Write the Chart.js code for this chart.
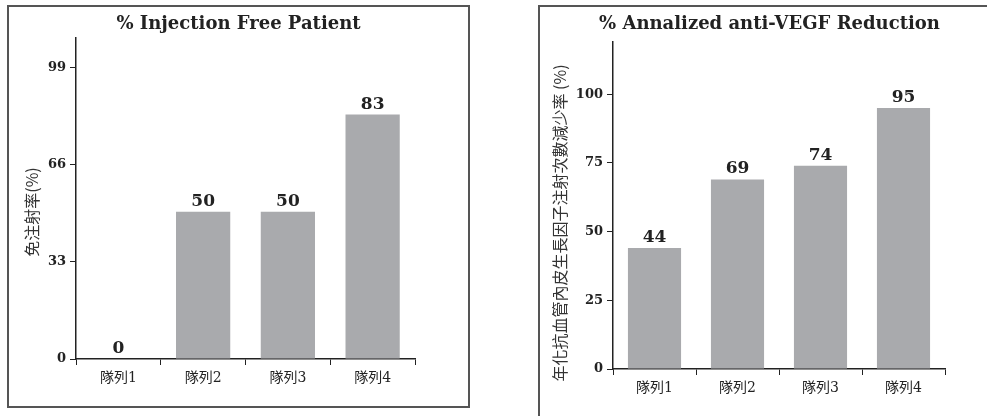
<!DOCTYPE html>
<html>
<head>
<meta charset="utf-8">
<script src="https://cdn.jsdelivr.net/npm/chart.js@4.4.0/dist/chart.umd.min.js"></script>
<style>
  body { margin: 0; background: #fff; overflow: hidden; width: 987px; height: 416px; position: relative; }
  .panel { position: absolute; border: 2px solid #555; box-sizing: border-box; background: #fff; }
  #panel1 { left: 7px; top: 5px; width: 463px; height: 403px; }
  #panel2 { left: 538px; top: 5px; width: 463px; height: 430px; }
  canvas { position: absolute; left: 0; top: 0; }
</style>
</head>
<body>
<div class="panel" id="panel1"><canvas id="chart1" width="459" height="399"></canvas></div>
<div class="panel" id="panel2"><canvas id="chart2" width="459" height="426"></canvas></div>
<script>
const categories = ["隊列1", "隊列2", "隊列3", "隊列4"];
const freeValues = [0, 50, 50, 83];
const freeTicks = [0, 33, 66, 99];
const reductionValues = [44, 69, 74, 95];
const reductionTicks = [0, 25, 50, 75, 100];

const serif = '"DejaVu Serif", "Noto Sans CJK TC", serif';
const cjk = '"Noto Sans CJK TC", sans-serif';
const barColor = "#a9aaad";
const ink = "#222";

// value labels above each bar
const barLabels = {
  id: "barLabels",
  afterDatasetsDraw(chart) {
    const ctx = chart.ctx;
    const meta = chart.getDatasetMeta(0);
    ctx.save();
    ctx.font = "bold 17px " + serif;
    ctx.fillStyle = ink;
    ctx.textAlign = "center";
    ctx.textBaseline = "alphabetic";
    meta.data.forEach((bar, i) => {
      ctx.fillText(chart.data.datasets[0].data[i], bar.x, bar.y - 6);
    });
    ctx.restore();
  },
};

// rotated y title, sits a little below the axis middle like the original
const yTitle = {
  id: "yTitle",
  afterDraw(chart, args, o) {
    const ctx = chart.ctx;
    ctx.save();
    ctx.translate(o.x, o.y);
    ctx.rotate(-Math.PI / 2);
    ctx.font = o.size + "px " + cjk;
    ctx.fillStyle = "#333";
    ctx.textAlign = "center";
    ctx.textBaseline = "middle";
    ctx.fillText(o.text, 0, 0);
    ctx.restore();
  },
};

function makeChart(canvas, opts) {
  return new Chart(canvas, {
    type: "bar",
    data: {
      labels: categories,
      datasets: [
        {
          data: opts.values,
          backgroundColor: barColor,
          barPercentage: 0.64,
          categoryPercentage: 1,
        },
      ],
    },
    plugins: [barLabels, yTitle],
    options: {
      responsive: false,
      animation: false,
      layout: { padding: { left: 0, right: 0, top: 0, bottom: opts.bottomPad } },
      plugins: {
        legend: { display: false },
        tooltip: { enabled: false },
        title: {
          display: true,
          text: opts.title,
          color: ink,
          font: { family: serif, size: 18, weight: "bold", lineHeight: 1.2 },
          padding: opts.titlePadding,
        },
        yTitle: opts.yTitle,
      },
      scales: {
        x: {
          grid: { drawOnChartArea: false, drawTicks: true, tickLength: 6, color: ink },
          border: { display: true, color: ink, width: 1.5 },
          ticks: { color: ink, padding: 5, font: { family: serif, size: 14 } },
          afterFit: (s) => { s.height = 30; },
        },
        y: {
          min: 0,
          max: opts.max,
          grid: { drawOnChartArea: false, drawTicks: true, tickLength: 6, color: ink },
          border: { display: true, color: ink, width: 1.5 },
          ticks: { color: ink, padding: 4, font: { family: serif, size: 13, weight: "bold" } },
          afterBuildTicks: (s) => { s.ticks = opts.ticks.map((v) => ({ value: v })); },
          afterFit: (s) => { s.width = opts.yWidth; },
        },
        // empty spacer on the right so the title stays centred in the box
        gap: {
          type: "linear",
          position: "right",
          display: true,
          grid: { display: false },
          border: { display: false },
          ticks: { display: false },
          afterFit: (s) => { s.width = opts.rightGap; },
        },
      },
    },
  });
}

makeChart(document.getElementById("chart1"), {
  values: freeValues,
  ticks: freeTicks,
  max: 109,
  title: "% Injection Free Patient",
  yTitle: { text: "免注射率(%)", size: 16, x: 23, y: 205 },
  yWidth: 67,
  rightGap: 53,
  bottomPad: 17,
  titlePadding: { top: 7, bottom: 2.4 },
});

makeChart(document.getElementById("chart2"), {
  values: reductionValues,
  ticks: reductionTicks,
  max: 119,
  title: "% Annalized anti-VEGF Reduction",
  yTitle: { text: "年化抗血管內皮生長因子注射次數減少率 (%)", size: 16, x: 20, y: 216 },
  yWidth: 73,
  rightGap: 54,
  bottomPad: 34,
  titlePadding: { top: 7, bottom: 6.4 },
});
</script>
</body>
</html>
